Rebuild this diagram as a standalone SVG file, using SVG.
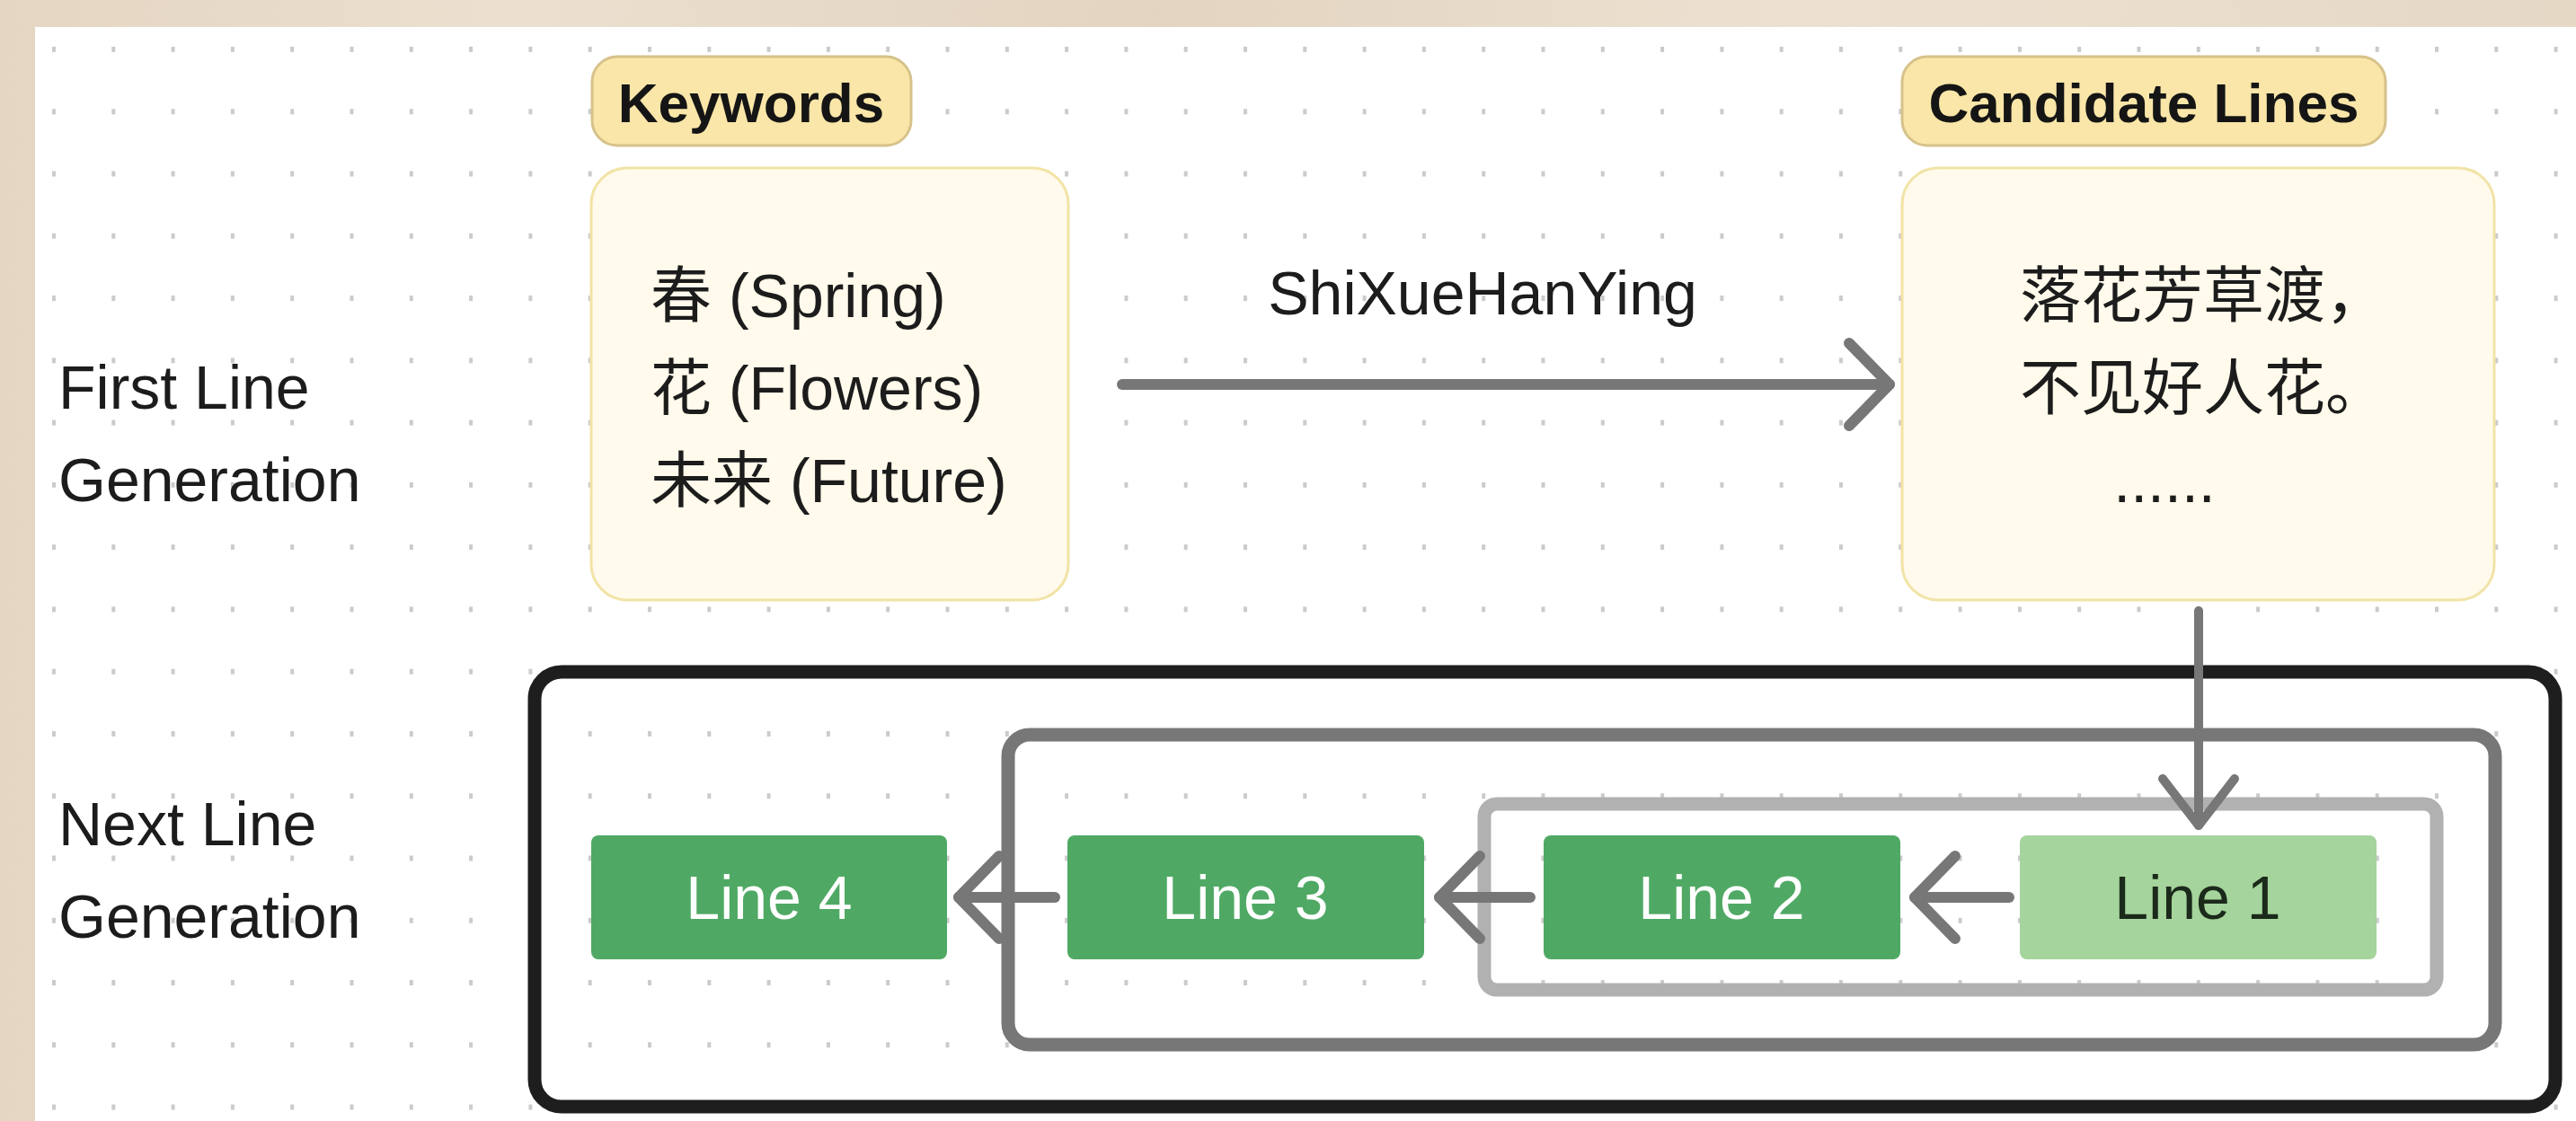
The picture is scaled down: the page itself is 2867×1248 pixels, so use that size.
<svg xmlns="http://www.w3.org/2000/svg" width="2867" height="1248" viewBox="0 0 2867 1248">
  <defs>
    <style>
      .lbl { font-family: 'Liberation Sans', 'Noto Sans CJK SC', sans-serif; font-size: 68px; fill: #1c1c1c; }
      .tag { font-family: 'Liberation Sans', 'Noto Sans CJK SC', sans-serif; font-size: 62px; font-weight: bold; fill: #151515; text-anchor: middle; }
      .pill { fill: #f9e6a8; stroke: #d6c28a; stroke-width: 3; }
      .card { fill: #fffaeb; stroke: #f2e3a6; stroke-width: 3; }
      .step { fill: #4fa964; }
      .step-first { fill: #a5d49c; }
      .step-text { font-family: 'Liberation Sans', sans-serif; font-size: 68px; fill: #ffffff; text-anchor: middle; }
      .frame { fill: none; stroke-width: 15; }
      .wire { fill: none; stroke: #777777; stroke-width: 12; stroke-linecap: round; }
    </style>
    <pattern id="dots" patternUnits="userSpaceOnUse" x="58" y="52" width="66.3" height="69.27">
      <rect x="0" y="0" width="4" height="6" fill="#cbcbcb"/>
    </pattern>
    <linearGradient id="paper" x1="0" y1="0" x2="1" y2="0">
      <stop offset="0" stop-color="#e4d6c2"/>
      <stop offset="0.2" stop-color="#ebdfcf"/>
      <stop offset="0.45" stop-color="#e2d4c0"/>
      <stop offset="0.7" stop-color="#ece1d1"/>
      <stop offset="1" stop-color="#e5d8c5"/>
    </linearGradient>
    <!-- wide open chevron for the horizontal arrows -->
    <marker id="chev" markerUnits="userSpaceOnUse" orient="auto" refX="0" refY="0" markerWidth="1" markerHeight="1" overflow="visible">
      <path d="M-45,-46 L0,0 L-45,46" fill="none" stroke="#777777" stroke-width="12" stroke-linecap="round" stroke-linejoin="round"/>
    </marker>
    <!-- narrower chevron for the drop into the loop -->
    <marker id="chev-down" markerUnits="userSpaceOnUse" orient="auto" refX="0" refY="0" markerWidth="1" markerHeight="1" overflow="visible">
      <path d="M-52,-40 L0,0 L-52,40" fill="none" stroke="#777777" stroke-width="10" stroke-linecap="round" stroke-linejoin="round"/>
    </marker>
  </defs>

  <!-- paper backdrop and dotted canvas -->
  <rect x="0" y="0" width="2867" height="1248" fill="url(#paper)"/>
  <rect x="39" y="30" width="2828" height="1218" fill="#ffffff"/>
  <rect x="39" y="30" width="2828" height="1218" fill="url(#dots)"/>

  <!-- row labels -->
  <g id="row-first">
    <text class="lbl" x="65" y="455">First Line</text>
    <text class="lbl" x="65" y="558">Generation</text>
  </g>
  <g id="row-next">
    <text class="lbl" x="65" y="941">Next Line</text>
    <text class="lbl" x="65" y="1044">Generation</text>
  </g>

  <!-- nested loop frames -->
  <g id="frame-outer">
    <rect class="frame" x="595" y="748" width="2249" height="484" rx="30" stroke="#1e1e1e"/>
  </g>
  <g id="frame-middle">
    <rect class="frame" x="1122" y="818" width="1655" height="345" rx="24" stroke="#777777"/>
  </g>
  <g id="frame-inner">
    <rect class="frame" x="1652" y="895" width="1060" height="207" rx="14" stroke="#b1b1b1"/>
  </g>

  <!-- keywords -->
  <g id="keywords-tag">
    <rect class="pill" x="659" y="63" width="355" height="99" rx="28"/>
    <text class="tag" x="836" y="136">Keywords</text>
  </g>
  <g id="keywords">
    <rect class="card" x="658" y="187" width="531" height="481" rx="40"/>
    <text class="lbl" x="724" y="353">春 (Spring)</text>
    <text class="lbl" x="724" y="456">花 (Flowers)</text>
    <text class="lbl" x="724" y="559">未来 (Future)</text>
  </g>

  <!-- candidate lines -->
  <g id="candidates-tag">
    <rect class="pill" x="2117" y="63" width="538" height="99" rx="28"/>
    <text class="tag" x="2386" y="136">Candidate Lines</text>
  </g>
  <g id="candidates">
    <rect class="card" x="2117" y="187" width="659" height="481" rx="40"/>
    <text class="lbl" x="2452" y="353" text-anchor="middle">落花芳草渡，</text>
    <text class="lbl" x="2452" y="456" text-anchor="middle">不见好人花。</text>
    <text class="lbl" x="2409" y="559" text-anchor="middle">......</text>
  </g>

  <!-- generated lines -->
  <g id="line-4">
    <rect class="step" x="658" y="930" width="396" height="138" rx="8"/>
    <text class="step-text" x="856" y="1023">Line 4</text>
  </g>
  <g id="line-3">
    <rect class="step" x="1188" y="930" width="397" height="138" rx="8"/>
    <text class="step-text" x="1386" y="1023">Line 3</text>
  </g>
  <g id="line-2">
    <rect class="step" x="1718" y="930" width="397" height="138" rx="8"/>
    <text class="step-text" x="1916" y="1023">Line 2</text>
  </g>
  <g id="line-1">
    <rect class="step-first" x="2248" y="930" width="397" height="138" rx="8"/>
    <text class="step-text" x="2446" y="1023" style="fill:#1b2a1b">Line 1</text>
  </g>

  <!-- connectors -->
  <g id="connectors">
    <line class="wire" x1="1249" y1="428" x2="2103" y2="428" marker-end="url(#chev)"/>
    <text class="lbl" x="1650" y="350" text-anchor="middle">ShiXueHanYing</text>
    <line class="wire" x1="2447" y1="680" x2="2447" y2="919" marker-end="url(#chev-down)" style="stroke-width:10"/>
    <line class="wire" x1="2236" y1="999" x2="2131" y2="999" marker-end="url(#chev)"/>
    <line class="wire" x1="1703" y1="999" x2="1602" y2="999" marker-end="url(#chev)"/>
    <line class="wire" x1="1174" y1="999" x2="1067" y2="999" marker-end="url(#chev)"/>
  </g>
</svg>
